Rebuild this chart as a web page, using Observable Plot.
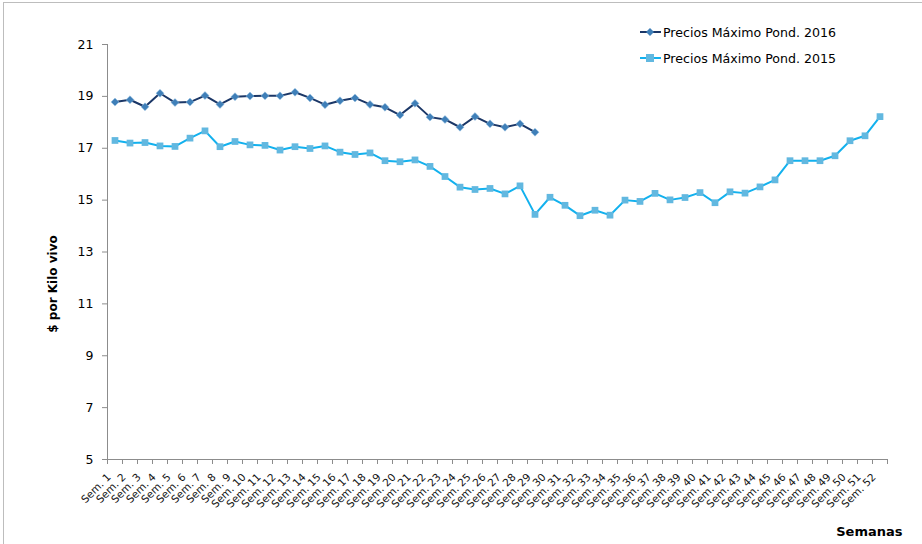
<!DOCTYPE html>
<html>
<head>
<meta charset="utf-8">
<script src="https://cdn.jsdelivr.net/npm/d3@7"></script>
<script src="https://cdn.jsdelivr.net/npm/@observablehq/plot@0.6"></script>
<style>
  html, body { margin: 0; padding: 0; background: #fff; }
  #wrap { position: relative; width: 922px; height: 544px; overflow: hidden; font-family: "DejaVu Sans", sans-serif; }
  #frame { position: absolute; left: 3px; top: 2px; width: 940px; height: 560px; border-top: 1px solid #bdbdbd; border-left: 1px solid #bdbdbd; }
  #chart { position: absolute; left: 0; top: 0; }
  #legend { position: absolute; left: 640px; top: 19px; font-size: 12.6px; color: #000; }
  .item { display: flex; align-items: center; height: 26px; }
  .item svg { margin-right: 2px; }
</style>
</head>
<body>
<div id="wrap">
  <div id="frame"></div>
  <div id="chart"></div>
  <div id="legend"></div>
</div>
<script>
const weeks = Array.from({length: 52}, (_, i) => i + 1);
const weekLabels = weeks.map(w => "Sem. " + w);
const yTicks = [5, 7, 9, 11, 13, 15, 17, 19, 21];

const seriesNames = ["Precios Máximo Pond. 2016", "Precios Máximo Pond. 2015"];

const precios2016 = [18.78, 18.87, 18.60, 19.12, 18.76, 18.78, 19.03, 18.69, 18.99, 19.01,
  19.02, 19.02, 19.16, 18.94, 18.68, 18.83, 18.94, 18.69, 18.58, 18.28,
  18.73, 18.20, 18.11, 17.81, 18.22, 17.94, 17.81, 17.94, 17.62];

const precios2015 = [17.30, 17.20, 17.22, 17.09, 17.07, 17.39, 17.67, 17.06, 17.26, 17.13,
  17.11, 16.93, 17.06, 16.99, 17.09, 16.85, 16.76, 16.82, 16.52, 16.48,
  16.55, 16.30, 15.91, 15.50, 15.41, 15.45, 15.24, 15.55, 14.45, 15.11,
  14.80, 14.40, 14.61, 14.42, 15.00, 14.95, 15.26, 15.01, 15.10, 15.29,
  14.90, 15.32, 15.27, 15.51, 15.78, 16.52, 16.52, 16.52, 16.71, 17.29,
  17.48, 18.22];

const colors = {
  line2016: "#1b3767", mark2016: "#3f7fb8",
  line2015: "#12b1ee", mark2015: "#62b8e0"
};

const d2016 = precios2016.map((v, i) => ({week: weeks[i], value: v}));
const d2015 = precios2015.map((v, i) => ({week: weeks[i], value: v}));
const boundaries = Array.from({length: 53}, (_, i) => i + 0.5);

const chart = Plot.plot({
  width: 922,
  height: 544,
  marginLeft: 107,
  marginRight: 35,
  marginTop: 44,
  marginBottom: 85,
  style: {fontFamily: "DejaVu Sans, sans-serif", fontSize: "12px", color: "#000", background: "transparent"},
  x: {type: "linear", domain: [0.5, 52.5]},
  y: {domain: [5, 21]},
  marks: [
    Plot.ruleX([0.5], {stroke: "#8c8c8c", strokeWidth: 1}),
    Plot.ruleY([5], {stroke: "#8c8c8c", strokeWidth: 1}),
    Plot.axisY({ticks: yTicks, tickSize: 5, tickPadding: 9, stroke: "#8c8c8c", fontSize: 12.5, label: null}),
    Plot.axisX({ticks: boundaries, tickSize: 5, tickFormat: () => "", stroke: "#8c8c8c", label: null}),
    Plot.text(weeks, {
      x: d => d, frameAnchor: "bottom", text: d => weekLabels[d - 1],
      rotate: -45, textAnchor: "end", lineAnchor: "middle",
      dx: -6, dy: 16, fontSize: 10.5, fill: "#111"
    }),
    Plot.text(["$ por Kilo vivo"], {
      frameAnchor: "left", rotate: -90, dx: -54, dy: 32, textAnchor: "middle",
      fontWeight: "bold", fontSize: 12, fill: "#000"
    }),
    Plot.text(["Semanas"], {
      frameAnchor: "bottom-right", textAnchor: "end", lineAnchor: "bottom",
      dx: 15, dy: 76, fontWeight: "bold", fontSize: 13, fill: "#000"
    }),
    Plot.line(d2015, {x: "week", y: "value", stroke: colors.line2015, strokeWidth: 2}),
    Plot.dot(d2015, {x: "week", y: "value", symbol: "square", r: 3.8, fill: colors.mark2015, stroke: "none"}),
    Plot.line(d2016, {x: "week", y: "value", stroke: colors.line2016, strokeWidth: 2}),
    Plot.dot(d2016, {x: "week", y: "value", symbol: "diamond2", r: 3.6, fill: colors.mark2016, stroke: "#9cc6e6", strokeWidth: 0.5})
  ]
});
document.getElementById("chart").appendChild(chart);

const legend = document.getElementById("legend");
const legendDefs = [
  {name: seriesNames[0], line: colors.line2016, mark: colors.mark2016, shape: "diamond"},
  {name: seriesNames[1], line: colors.line2015, mark: colors.mark2015, shape: "square"}
];
for (const d of legendDefs) {
  const item = document.createElement("div");
  item.className = "item";
  const sym = d.shape === "diamond"
    ? `<polygon points="10,4 14,8 10,12 6,8" fill="${d.mark}"/>`
    : `<rect x="6" y="4" width="8" height="8" fill="${d.mark}"/>`;
  item.innerHTML = `<svg width="21" height="16"><line x1="0" x2="21" y1="8" y2="8" stroke="${d.line}" stroke-width="2"/>${sym}</svg><span>${d.name}</span>`;
  legend.appendChild(item);
}
</script>
</body>
</html>
